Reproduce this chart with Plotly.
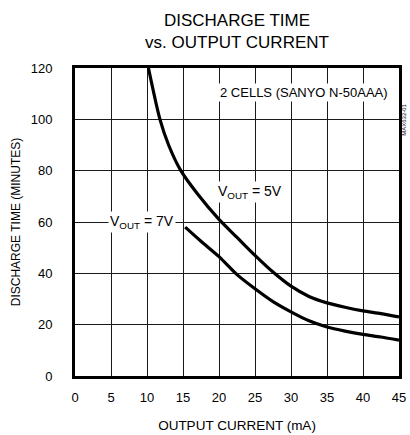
import plotly.graph_objects as go

# Data
current_5v = [10.2, 11.8, 13.0, 14.7, 17.0, 20.0, 22.5, 25.0, 27.5, 30.0, 32.5, 35.0, 37.5, 40.0, 42.5, 45.0]
time_5v = [120, 100, 90, 80, 71, 61, 54, 47, 40.5, 35, 31, 28.5, 26.8, 25.4, 24.3, 23]

current_7v = [15.3, 17.5, 20.0, 22.5, 25.0, 27.5, 30.0, 32.5, 35.0, 37.5, 40.0, 42.5, 45.0]
time_7v = [58, 52.5, 46.5, 39.5, 34, 29, 25, 21.5, 19.1, 17.5, 16.2, 15.2, 14]

x_ticks = [0, 5, 10, 15, 20, 25, 30, 35, 40, 45]
y_ticks = [0, 20, 40, 60, 80, 100, 120]

FONT = "Liberation Sans, Arial, sans-serif"

fig = go.Figure()
fig.add_trace(go.Scatter(x=current_5v, y=time_5v, mode="lines",
                         line=dict(color="black", width=3.2, shape="spline", smoothing=0.8),
                         showlegend=False, hoverinfo="skip"))
fig.add_trace(go.Scatter(x=current_7v, y=time_7v, mode="lines",
                         line=dict(color="black", width=3.2, shape="spline", smoothing=0.8),
                         showlegend=False, hoverinfo="skip"))

fig.update_layout(
    width=410, height=435,
    margin=dict(l=75, r=11, t=68, b=59),
    paper_bgcolor="white", plot_bgcolor="white",
    font=dict(family=FONT, size=13, color="black"),
    title=dict(text="DISCHARGE TIME<br>vs. OUTPUT CURRENT", x=0.5, xref="paper",
               y=1 - 26 / 435, yref="container", yanchor="middle",
               font=dict(size=17, family=FONT, color="black")),
    xaxis=dict(range=[0, 45], tickvals=x_ticks, ticktext=[str(v) for v in x_ticks],
               showgrid=True, gridcolor="#1a1a1a", gridwidth=1.4,
               showline=True, linecolor="black", linewidth=3, mirror=True,
               ticks="", ticklabelstandoff=7, zeroline=False, automargin=False,
               title=dict(text="OUTPUT CURRENT (mA)", standoff=17, font=dict(size=13.5))),
    yaxis=dict(range=[0, 120], tickvals=y_ticks, ticktext=[str(v) for v in y_ticks],
               showgrid=True, gridcolor="#1a1a1a", gridwidth=1.4,
               showline=True, linecolor="black", linewidth=3, mirror=True,
               ticks="", ticklabelstandoff=17, zeroline=False, automargin=False,
               title=dict(text="DISCHARGE TIME (MINUTES)", standoff=8, font=dict(size=12))),
)

fig.add_annotation(x=24.3, y=71.7, text="V<sub>OUT</sub> = 5V", showarrow=False,
                   bgcolor="white", font=dict(size=14), borderpad=1)
fig.add_annotation(x=9.3, y=60, text="V<sub>OUT</sub> = 7V", showarrow=False,
                   bgcolor="white", font=dict(size=14), borderpad=1)
fig.add_annotation(x=31.8, y=110.6, text="2 CELLS (SANYO N-50AAA)", showarrow=False,
                   bgcolor="white", font=dict(size=13), borderpad=1)
fig.add_annotation(x=1.015, y=0.89, xref="paper", yref="paper", text="MAX632-01",
                   showarrow=False, textangle=-90, font=dict(size=6), xanchor="center")

fig.write_html("out.html", config={"displayModeBar": False},
               post_script="document.body.style.margin='0';")
